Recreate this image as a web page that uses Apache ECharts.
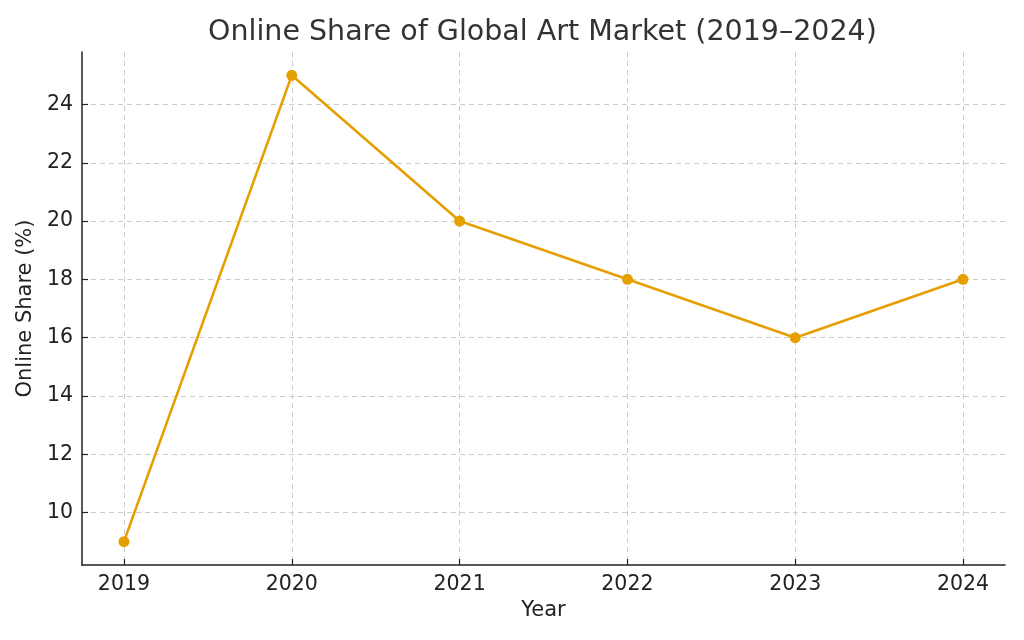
<!DOCTYPE html>
<html>
<head>
<meta charset="utf-8">
<script src="https://cdn.jsdelivr.net/npm/echarts@6/dist/echarts.min.js"></script>
<style>
  html, body { margin: 0; padding: 0; background: #fff; }
  #chart { width: 1024px; height: 640px; }
</style>
</head>
<body>
<div id="chart"></div>
<script>
// data
var years = [2019, 2020, 2021, 2022, 2023, 2024];
var onlineShare = [9, 25, 20, 18, 16, 18];
var xTicks = [2019, 2020, 2021, 2022, 2023, 2024];
var yTicks = [10, 12, 14, 16, 18, 20, 22, 24];

var points = years.map(function (y, i) { return [y, onlineShare[i]]; });

var font = 'DejaVu Sans';
var chart = echarts.init(document.getElementById('chart'));
chart.setOption({
    animation: false,
    backgroundColor: '#fff',
    title: {
        text: 'Online Share of Global Art Market (2019–2024)',
        // centred over the plot area, not the canvas
        left: 203,
        top: 13,
        textStyle: {
            fontFamily: font,
            fontSize: 28.5,
            fontWeight: 'normal',
            color: '#333'
        }
    },
    grid: {
        left: 82,
        right: 19,
        top: 52,
        bottom: 75
    },
    xAxis: {
        type: 'value',
        min: 2018.75,
        max: 2024.25,
        name: 'Year',
        nameLocation: 'middle',
        nameGap: 34,
        nameTextStyle: { fontFamily: font, fontSize: 21, color: '#222' },
        axisLine: { lineStyle: { color: '#222', width: 1.5 } },
        axisTick: {
            show: true,
            inside: true,
            length: 6,
            customValues: xTicks,
            lineStyle: { color: '#222', width: 1.2 }
        },
        axisLabel: {
            customValues: xTicks,
            margin: 9,
            fontFamily: font,
            fontSize: 20.5,
            color: '#222',
            formatter: function (v) { return String(v); }
        },
        splitLine: {
            show: true,
            lineStyle: { color: '#ccc', type: [5, 4], width: 1 }
        }
    },
    yAxis: {
        type: 'value',
        min: 8.2,
        max: 25.8,
        name: 'Online Share (%)',
        nameLocation: 'middle',
        nameGap: 44,
        nameTextStyle: { fontFamily: font, fontSize: 21, color: '#222' },
        axisLine: { show: true, lineStyle: { color: '#222', width: 1.5 } },
        axisTick: {
            show: true,
            inside: true,
            length: 6,
            customValues: yTicks,
            lineStyle: { color: '#222', width: 1.2 }
        },
        axisLabel: {
            customValues: yTicks,
            margin: 9,
            fontFamily: font,
            fontSize: 20.5,
            color: '#222'
        },
        splitLine: {
            show: true,
            lineStyle: { color: '#ccc', type: [5, 4], width: 1 }
        }
    },
    series: [{
        type: 'line',
        data: points,
        symbol: 'circle',
        symbolSize: 11,
        itemStyle: { color: '#E69F00' },
        lineStyle: { color: '#E69F00', width: 2.6 }
    }]
});
</script>
</body>
</html>
